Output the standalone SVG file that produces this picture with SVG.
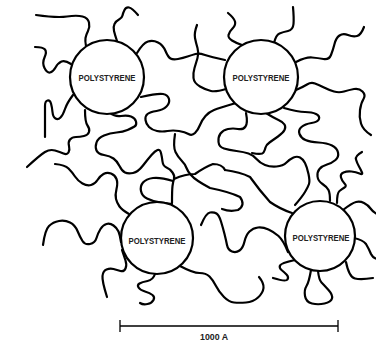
<svg xmlns="http://www.w3.org/2000/svg" width="376" height="342" viewBox="0 0 376 342">
<style>
.c{fill:none;stroke:#000;stroke-width:2.2;stroke-linecap:round;stroke-linejoin:round}
.n{fill:#fff;stroke:#000;stroke-width:2.2}
.t{font-family:"Liberation Sans Narrow","Liberation Sans",Arial,sans-serif;font-weight:bold;font-size:9px;fill:#222;text-anchor:middle}
.s{stroke:#000;stroke-width:1.3;fill:none}
</style>
<rect width="376" height="342" fill="#fff"/>
<g id="connectors">
<path class="c" d="M36,15 Q57,18 67,16.5 Q77,15 82.5,16.5 Q88,18 89,22.5 Q90,27 88,31 Q86,35 85.5,38 Q85,41 86,46"/>
<path class="c" d="M138,15 Q132,8 129,7.5 Q126,7 124.5,10 Q123,13 122.5,15.5 Q122,18 119,19.5 Q116,21 114.5,24 Q113,27 114,31 Q115,35 117,41"/>
<path class="c" d="M35,47 Q43,47 45,49.5 Q47,52 44.5,57.5 Q42,63 44.5,68 Q47,73 50,72.5 Q53,72 55.5,67.5 Q58,63 61.5,61.5 Q65,60 71,64"/>
<path class="c" d="M45,137 L45,106 Q45,101 47.5,100.5 Q50,100 51,103.5 Q52,107 52.5,112 Q53,117 55.5,118.5 Q58,120 60.5,117.5 Q63,115 65,109 Q67,103 73,95"/>
<path class="c" d="M27,167 Q40,155 45,152 Q50,149 55,150.5 Q60,152 63.5,153.5 Q67,155 68.5,152.5 Q70,150 69,146 Q68,142 70,139.5 Q72,137 76,137 Q80,137 84,136 Q88,135 89,132 Q90,129 87.5,125.5 Q85,122 85,110"/>
<path class="c" d="M110,113 Q115,117 121,116 Q127,115 131,116.5 Q135,118 136,121.5 Q137,125 134.5,126.5 Q132,128 127.5,130 Q123,132 116.5,132.5 Q110,133 104,135.5 Q98,138 96.5,142.5 Q95,147 96.5,150.5 Q98,154 104,155 Q110,156 113.5,158.5 Q117,161 119.5,166 Q122,171 125,172.5 Q128,174 133,173 Q138,172 143,165.5 Q148,159 151.5,155 Q155,151 157.5,150 Q160,149 161,153 Q162,157 162.5,161.5 Q163,166 166.5,167.5 Q170,169 172.5,172.5 Q175,176 174,179 Q173,182 172.5,186 Q172,190 172,203"/>
<path class="c" d="M137,53 Q143,43 148,41.5 Q153,40 158,42.5 Q163,45 165.5,51 Q168,57 170.5,58.5 Q173,60 178,59 Q183,58 187.5,56.5 Q192,55 195.5,54 Q199,53 205,55 Q211,57 225,60"/>
<path class="c" d="M197,25 Q194,33 195,38 Q196,43 197.5,48 Q199,53 197.5,58 Q196,63 194.5,68 Q193,73 193.5,78 Q194,83 200,86.5 Q206,90 211,91 Q216,92 226,89"/>
<path class="c" d="M141,97 Q158,93 163,94 Q168,95 169,99 Q170,103 166.5,106.5 Q163,110 156.5,111 Q150,112 147.5,114 Q145,116 145.5,120 Q146,124 149,127 Q152,130 157,131 Q162,132 167.5,131 Q173,130 179,131 Q185,132 188.5,134 Q192,136 195,133 Q198,130 200,125 Q202,120 205.5,116 Q209,112 214,110 Q219,108 236,103"/>
<path class="c" d="M228,13 Q234,18 235,21.5 Q236,25 232.5,28.5 Q229,32 228.5,35 Q228,38 232,40.5 Q236,43 242,45"/>
<path class="c" d="M293,7 Q294,18 293.5,24 Q293,30 288,31 Q283,32 279.5,33.5 Q276,35 274,43"/>
<path class="c" d="M364,27 Q361,35 357,36 Q353,37 348,35 Q343,33 339.5,35.5 Q336,38 334.5,44 Q333,50 331,55 Q329,60 323.5,59 Q318,58 312,57.5 Q306,57 296,62"/>
<path class="c" d="M371,135 Q363,130 361,123.5 Q359,117 360,110 Q361,103 363.5,99 Q366,95 362.5,91.5 Q359,88 354,89 Q349,90 344,91.5 Q339,93 334,91.5 Q329,90 324,87.5 Q319,85 315,83.5 Q311,82 307,84.5 Q303,87 296,90"/>
<path class="c" d="M246,113 Q248,123 245.5,126.5 Q243,130 238,129 Q233,128 228,129 Q223,130 220.5,133.5 Q218,137 218.5,142 Q219,147 224,148.5 Q229,150 236.5,151 Q244,152 248.5,153.5 Q253,155 256.5,159 Q260,163 265,165 Q270,167 276.5,166.5 Q283,166 286.5,162.5 Q290,159 293.5,157.5 Q297,156 300,157.5 Q303,159 305,163 Q307,167 308.5,174 Q310,181 309,184 Q308,187 305,192 Q302,197 295,205"/>
<path class="c" d="M266,113 Q274,118 278.5,120 Q283,122 284.5,124.5 Q286,127 284.5,130 Q283,133 278,136.5 Q273,140 269.5,142.5 Q266,145 265.5,147.5 Q265,150 263.5,152.5 Q262,155 252,153"/>
<path class="c" d="M284,108 Q298,112 305,112 Q312,112 316,114 Q320,116 319,119 Q318,122 311.5,123 Q305,124 301.5,127 Q298,130 299.5,134 Q301,138 305.5,140 Q310,142 318.5,142.5 Q327,143 332,145.5 Q337,148 338,152.5 Q339,157 335.5,160 Q332,163 327,164.5 Q322,166 319.5,169 Q317,172 317.5,176.5 Q318,181 322.5,184 Q327,187 328.5,190 Q330,193 330,201"/>
<path class="c" d="M362,152 Q355,156 356,159.5 Q357,163 359,166.5 Q361,170 362,172.5 Q363,175 359.5,173.5 Q356,172 351.5,171.5 Q347,171 343.5,172.5 Q340,174 341,177.5 Q342,181 344.5,183.5 Q347,186 344.5,187.5 Q342,189 339.5,191 Q337,193 337,203"/>
<path class="c" d="M201,225 Q206,213 210,212.5 Q214,212 216.5,213.5 Q219,215 221,221.5 Q223,228 224.5,234 Q226,240 227,245 Q228,250 232,251.5 Q236,253 239.5,250.5 Q243,248 244.5,241.5 Q246,235 249.5,231.5 Q253,228 258,227.5 Q263,227 268.5,229.5 Q274,232 278.5,236 Q283,240 288,252"/>
<path class="c" d="M225,170 Q240,172 250,177 Q260,191 270,202 Q280,209 292,213"/>
<path class="c" d="M180,266 Q193,273 199.5,273 Q206,273 209.5,276.5 Q213,280 216,286 Q219,292 224,297 Q229,302 234,302.5 Q239,303 246,302.5 Q253,302 258,297.5 Q263,293 263.5,288 Q264,283 259,277"/>
<path class="c" d="M273,278 Q286,282 287.5,279.5 Q289,277 286.5,274.5 Q284,272 281.5,270 Q279,268 280,265.5 Q281,263 295,260"/>
<path class="c" d="M311,270 Q309,282 306.5,286 Q304,290 305,296 Q306,302 312,303.5 Q318,305 324.5,303.5 Q331,302 332,298.5 Q333,295 328.5,290 Q324,285 321.5,282.5 Q319,280 318,271"/>
<path class="c" d="M346,262 Q349,277 355,278.5 Q361,280 373,278"/>
<path class="c" d="M343,210 Q352,203 356,202 Q360,201 364,203 Q368,205 370.5,208.5 Q373,212 377,214"/>
<path class="c" d="M354,238 Q363,240 366,244 Q369,249 371,254 Q373,258 377,259"/>
<path class="c" d="M55,164 Q65,165 68.5,168.5 Q72,172 75,176.5 Q78,181 82.5,183.5 Q87,186 91,185 Q95,184 97.5,180 Q100,176 103.5,174 Q107,172 111,173.5 Q115,175 116.5,179 Q118,183 116.5,189 Q115,195 116,199 Q117,203 119.5,206.5 Q122,210 129,214"/>
<path class="c" d="M43,245 Q45,230 49,226 Q53,222 59,221 Q65,220 70,222.5 Q75,225 77.5,231 Q80,237 82.5,241 Q85,245 90,244 Q95,243 96.5,238 Q98,233 100.5,229 Q103,225 106.5,224 Q110,223 113.5,225.5 Q117,228 118.5,231.5 Q120,235 121,242"/>
<path class="c" d="M107,297 Q102,281 102.5,276 Q103,271 106.5,269.5 Q110,268 113.5,269 Q117,270 120.5,271 Q124,272 125.5,268.5 Q127,265 125.5,260.5 Q124,256 122,250"/>
<path class="c" d="M155,274 Q153,280 147.5,281 Q142,282 139.5,283.5 Q137,285 138.5,287.5 Q140,290 145,291.5 Q150,293 152.5,295 Q155,297 153.5,300 Q152,303 147.5,304 Q143,305 140,303"/>
<path class="c" d="M173,181 Q160,177 153,178 Q146,179 143,182.5 Q140,186 141,191 Q142,196 147,198.5 Q152,201 158.5,202 Q165,203 172,204"/>
<path class="c" d="M175,134 Q173,147 175.5,152 Q178,157 181.5,160.5 Q185,164 186.5,168 Q188,172 191,175 Q195,180 210,188 Q230,192 240,197 Q246,205 238,210 Q230,212 222,209"/>
<path class="c" d="M174,179 Q185,174 195,174 Q205,167 213,164 Q222,164 225,170"/>
</g>
<g id="node-tl"><circle class="n" cx="107" cy="77" r="37"/><text class="t" x="107" y="80.5" textLength="57" lengthAdjust="spacingAndGlyphs">POLYSTYRENE</text></g>
<g id="node-tr"><circle class="n" cx="261" cy="77" r="37"/><text class="t" x="261" y="80.5" textLength="57" lengthAdjust="spacingAndGlyphs">POLYSTYRENE</text></g>
<g id="node-bl"><circle class="n" cx="157" cy="238" r="36"/><text class="t" x="157" y="244" textLength="57" lengthAdjust="spacingAndGlyphs">POLYSTYRENE</text></g>
<g id="node-br"><circle class="n" cx="320" cy="236" r="35"/><text class="t" x="321" y="241" textLength="57" lengthAdjust="spacingAndGlyphs">POLYSTYRENE</text></g>
<g id="scale">
<path class="s" d="M120,326 H338 M120,320 V332 M338,320 V332"/>
<text class="t" x="214" y="340" textLength="28" lengthAdjust="spacingAndGlyphs" font-size="9.5">1000 A</text>
</g>
</svg>
